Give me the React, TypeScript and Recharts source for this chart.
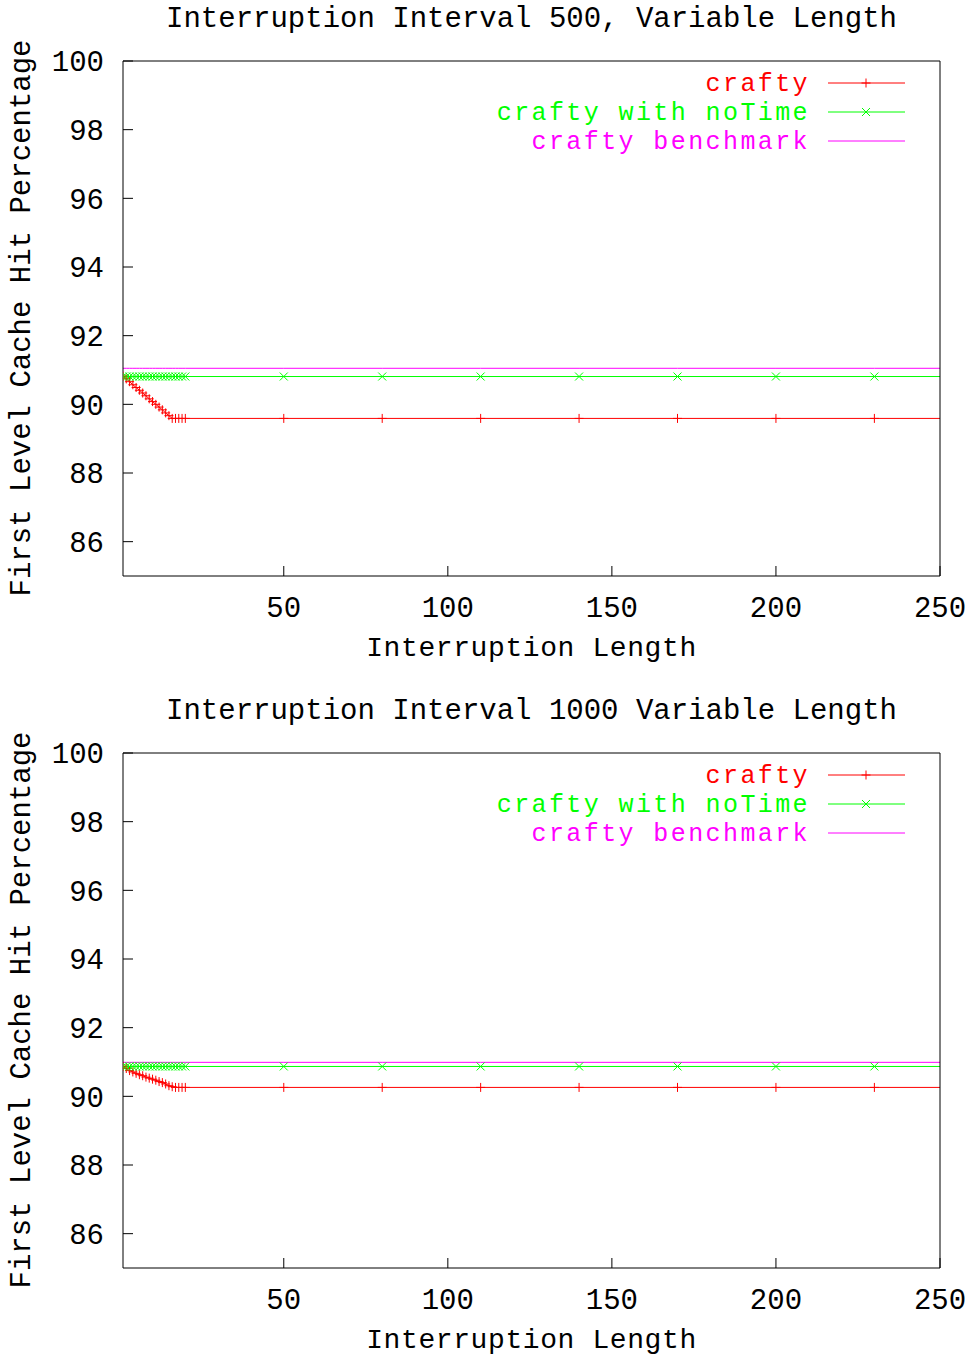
import { LineChart, Line, XAxis, YAxis, Legend, Label } from "recharts"

const lengths = [1, 2, 3, 4, 5, 6, 7, 8, 9, 10, 11, 12, 13, 14, 15, 16, 17, 18, 19, 20, 50, 80, 110, 140, 170, 200, 230, 260]

const xTicks = [50, 100, 150, 200, 250]
const yTicks = [86, 88, 90, 92, 94, 96, 98, 100]

// interval 500
const crafty500 = [90.82, 90.74, 90.66, 90.57, 90.49, 90.41, 90.33, 90.25, 90.16, 90.08, 90.0, 89.92, 89.84, 89.75, 89.67, 89.59, 89.59, 89.59, 89.59, 89.59, 89.59, 89.59, 89.59, 89.59, 89.59, 89.59, 89.59, 89.59]
const noTime500 = [90.81, 90.81, 90.81, 90.81, 90.81, 90.81, 90.81, 90.81, 90.81, 90.81, 90.81, 90.81, 90.81, 90.81, 90.81, 90.81, 90.81, 90.81, 90.81, 90.81, 90.81, 90.81, 90.81, 90.81, 90.81, 90.81, 90.81, 90.81]
const bench500 = [91.05, 91.05, 91.05, 91.05, 91.05, 91.05, 91.05, 91.05, 91.05, 91.05, 91.05, 91.05, 91.05, 91.05, 91.05, 91.05, 91.05, 91.05, 91.05, 91.05, 91.05, 91.05, 91.05, 91.05, 91.05, 91.05, 91.05, 91.05]

// interval 1000
const crafty1000 = [90.87, 90.81, 90.75, 90.71, 90.67, 90.63, 90.6, 90.56, 90.53, 90.5, 90.47, 90.43, 90.4, 90.36, 90.31, 90.28, 90.26, 90.26, 90.26, 90.26, 90.26, 90.26, 90.26, 90.26, 90.26, 90.26, 90.26, 90.26]
const noTime1000 = [90.87, 90.87, 90.87, 90.87, 90.87, 90.87, 90.87, 90.87, 90.87, 90.87, 90.87, 90.87, 90.87, 90.87, 90.87, 90.87, 90.87, 90.87, 90.87, 90.87, 90.87, 90.87, 90.87, 90.87, 90.87, 90.87, 90.87, 90.87]
const bench1000 = [90.99, 90.99, 90.99, 90.99, 90.99, 90.99, 90.99, 90.99, 90.99, 90.99, 90.99, 90.99, 90.99, 90.99, 90.99, 90.99, 90.99, 90.99, 90.99, 90.99, 90.99, 90.99, 90.99, 90.99, 90.99, 90.99, 90.99, 90.99]

const RED = "#ff0000"
const GREEN = "#00ff00"
const MAGENTA = "#ff00ff"

const FONT = "'Liberation Mono', 'DejaVu Sans Mono', monospace"
const textStyle = { fontFamily: FONT, fontSize: 29, fill: "#000" }
const xLabelStyle = { fontFamily: FONT, fontSize: 28, letterSpacing: 0.6, fill: "#000" }

function Plus({ cx, cy, color }: any) {
  return <path d={`M${cx - 4.5},${cy}h9M${cx},${cy - 4.5}v9`} stroke={color} strokeWidth={1} fill="none" />
}

function Cross({ cx, cy, color }: any) {
  return <path d={`M${cx - 4},${cy - 4}l8,8M${cx - 4},${cy + 4}l8,-8`} stroke={color} strokeWidth={1} fill="none" />
}

const series = [
  { key: "crafty", name: "crafty", color: RED, marker: Plus },
  { key: "noTime", name: "crafty with noTime", color: GREEN, marker: Cross },
  { key: "bench", name: "crafty benchmark", color: MAGENTA, marker: null },
]

function LegendBox() {
  return (
    <div style={{ position: "relative", width: 969, height: 160 }}>
      {series.map((s, i) => {
        const M = s.marker
        return (
          <div key={s.key} style={{ position: "absolute", top: 70 + i * 29, left: 0, width: 969, height: 29 }}>
            <div
              style={{
                position: "absolute",
                right: 969 - 810,
                top: 0,
                height: 29,
                lineHeight: "29px",
                fontFamily: FONT,
                fontSize: 25,
                letterSpacing: 2.4,
                color: s.color,
                whiteSpace: "nowrap",
              }}
            >
              {s.name}
            </div>
            <svg style={{ position: "absolute", left: 828, top: 0 }} width={78} height={29}>
              <line x1={0} y1={13} x2={77} y2={13} stroke={s.color} strokeWidth={1} />
              {M && <M cx={38} cy={13} color={s.color} />}
            </svg>
          </div>
        )
      })}
    </div>
  )
}

function Panel({ title, crafty, noTime, bench, top }: any) {
  const data = lengths.map((x, i) => ({ x, crafty: crafty[i], noTime: noTime[i], bench: bench[i] }))
  return (
    <div style={{ position: "absolute", left: 0, top, width: 969, height: 665 }}>
      <div
        style={{
          position: "absolute",
          left: 123,
          top: 5,
          width: 817,
          textAlign: "center",
          lineHeight: "29px",
          fontFamily: FONT,
          fontSize: 29,
          color: "#000",
          whiteSpace: "nowrap",
        }}
      >
        {title}
      </div>
      <LineChart width={969} height={665} data={data} margin={{ top: 0, right: 0, bottom: 0, left: 0 }}>
        <XAxis
          dataKey="x"
          type="number"
          domain={[1, 250]}
          allowDataOverflow
          ticks={xTicks}
          height={89}
          tickSize={-10}
          tickMargin={30}
          stroke="#000"
          tick={textStyle}
        >
          <Label value="Interruption Length" position="insideBottom" offset={9} style={xLabelStyle} />
        </XAxis>
        <XAxis
          xAxisId="top"
          orientation="top"
          dataKey="x"
          type="number"
          domain={[1, 250]}
          allowDataOverflow
          ticks={xTicks}
          height={61}
          tickSize={-10}
          stroke="#000"
          tick={false}
        />
        <YAxis
          type="number"
          domain={[85, 100]}
          allowDataOverflow
          ticks={yTicks}
          width={123}
          tickSize={-10}
          tickMargin={29}
          stroke="#000"
          tick={textStyle}
        >
          <Label
            content={() => (
              <text
                x={22}
                y={318}
                transform="rotate(-90 22 318)"
                textAnchor="middle"
                dominantBaseline="central"
                style={textStyle}
              >
                First Level Cache Hit Percentage
              </text>
            )}
          />
        </YAxis>
        <YAxis
          yAxisId="right"
          orientation="right"
          type="number"
          domain={[85, 100]}
          ticks={yTicks}
          width={29}
          tickSize={-10}
          stroke="#000"
          tick={false}
        />
        <Legend
          layout="vertical"
          align="center"
          verticalAlign="middle"
          wrapperStyle={{ top: 0, left: 0, width: 969 }}
          content={() => <LegendBox />}
        />
        <Line
          dataKey="crafty"
          name="crafty"
          stroke={RED}
          strokeWidth={1}
          isAnimationActive={false}
          dot={(p: any) => (p.cx == null ? <g key={p.index} /> : <Plus key={p.index} cx={p.cx} cy={p.cy} color={RED} />)}
          activeDot={false}
        />
        <Line
          dataKey="noTime"
          name="crafty with noTime"
          stroke={GREEN}
          strokeWidth={1}
          isAnimationActive={false}
          dot={(p: any) => (p.cx == null ? <g key={p.index} /> : <Cross key={p.index} cx={p.cx} cy={p.cy} color={GREEN} />)}
          activeDot={false}
        />
        <Line
          dataKey="bench"
          name="crafty benchmark"
          stroke={MAGENTA}
          strokeWidth={1}
          isAnimationActive={false}
          dot={false}
          activeDot={false}
        />
      </LineChart>
    </div>
  )
}

export default function App() {
  return (
    <div style={{ position: "absolute", left: 0, top: 0, width: 969, height: 1357, background: "#fff" }}>
      <Panel title="Interruption Interval 500, Variable Length" crafty={crafty500} noTime={noTime500} bench={bench500} top={0} />
      <Panel title="Interruption Interval 1000 Variable Length" crafty={crafty1000} noTime={noTime1000} bench={bench1000} top={692} />
    </div>
  )
}
